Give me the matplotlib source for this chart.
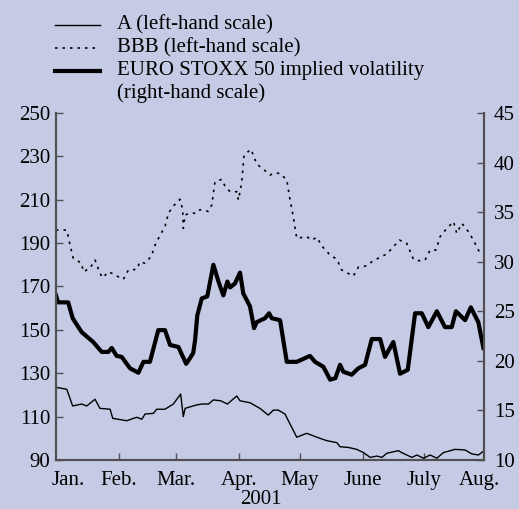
import matplotlib.pyplot as plt
from matplotlib.lines import Line2D

# *************************
# DATA (days since 1 Jan 2001)
# *************************
a_days = [0, 5.3, 8.2, 12.6, 15.1, 19.2, 21.6, 26.6, 27.9, 34.8, 39.7, 42.2, 43.8, 47.9,
          49.5, 53.6, 57.7, 61.3, 62.6, 63.5, 69.2, 71.7, 75, 77.4, 81, 84.3, 88.9, 90.5,
          95.4, 100.3, 104.4, 106.9, 109.3, 112.6, 118.4, 123.3, 128.3, 133.2, 138.1,
          139.7, 143.7, 147.9, 151.2, 154.5, 157.8, 160.3, 162.7, 168.4, 170, 175, 177.5,
          180.7, 184, 187.3, 190.5, 196.3, 201.2, 204.5, 207.7, 209.9]
a_vals = [123.5, 122.6, 114.9, 115.8, 114.9, 118, 113.8, 113.4, 109.2, 108.1, 109.7, 108.8,
          111.2, 111.5, 113.4, 113.4, 115.8, 120.4, 110, 113.8, 115.4, 115.8, 115.8, 117.7,
          117.3, 115.8, 119.5, 117.3, 116.4, 113.8, 110.7, 113, 113, 111.2, 100.5, 102.3,
          100.5, 98.9, 98, 96.1, 95.8, 94.9, 93.4, 91.2, 91.8, 91.2, 93.1, 94.3, 93.4, 91.2,
          92.3, 90.8, 92.3, 90.8, 93.4, 94.9, 94.6, 92.8, 92.3, 93.8]

bbb_days = [0, 5.3, 6.9, 8.5, 12.6, 13.4, 16.7, 19.2, 21.6, 23, 25.7, 28.2, 30.6, 33.1,
            35.6, 39.7, 41.3, 43.8, 47, 48.7, 51.2, 53.6, 55.3, 57.7, 61, 62.3, 62.6, 63.5,
            65.9, 69.2, 70.8, 74.9, 76.6, 78.2, 81.5, 83.1, 85.6, 88.9, 89.7, 91.3, 92.5,
            95.9, 98.7, 102.8, 105.3, 106.9, 110.2, 113.5, 115.1, 116.7, 118.4, 123.3,
            125.8, 128.3, 130.7, 134.8, 138.1, 140.5, 142.2, 146.2, 148.7, 152.8, 155.3,
            159.4, 162.7, 165.9, 168.9, 172.5, 175.8, 178.2, 181.5, 184, 186.9, 188.9,
            192.2, 195.5, 197.1, 199.6, 202.8, 205.3, 207.7, 209.4]
bbb_vals = [196, 196, 189.1, 183, 180.7, 176.8, 178.4, 182.2, 176.1, 174, 176.8, 175.8,
            174.5, 173.3, 177.6, 177.9, 181.4, 180.7, 184.1, 189.1, 193.7, 197.6, 203.8,
            207.1, 210.2, 205.3, 196.8, 203, 203.8, 203.8, 205.4, 204.6, 207.6, 218.3,
            219.4, 216.3, 213.7, 213.7, 209.9, 217.6, 230.6, 233.3, 226.5, 223.4, 221.4,
            222.2, 222.2, 219.1, 209.9, 202.2, 192.2, 193, 191.4, 192.7, 188.7, 184.5,
            182.6, 177.6, 176.8, 174.8, 178.9, 179.5, 181.4, 183.5, 185, 188.3, 191.4,
            189.9, 182.5, 181.9, 182.2, 186.8, 186.8, 193, 196.8, 199.9, 194.5, 199.1,
            195.3, 191.4, 186.8, 184.5]

vol_days = [0, 1, 6, 8.2, 12.6, 18.3, 22.5, 25.7, 27.4, 29.8, 32.3, 36.4, 40.5, 43, 46.2,
            50.3, 53.6, 56.1, 60.2, 64, 66, 67.5, 68.4, 69.5, 71.7, 74.4, 77.4, 79.9, 82.3,
            84.3, 85.6, 88, 90.5, 92.1, 95.4, 97.4, 98.7, 102.8, 104.8, 106.1, 110.2,
            113.5, 118.4, 124.9, 127.4, 131.5, 134.8, 137.4, 139.7, 141.3, 145.4, 148.7,
            152, 155.3, 159.4, 161.8, 165.9, 169.2, 173, 176.6, 179.9, 183.1, 187.3,
            191.3, 194.6, 196.7, 201.2, 204, 207.7, 210.2]
vol_vals = [26.6, 25.9, 25.9, 24.3, 22.9, 21.9, 20.9, 20.9, 21.3, 20.5, 20.4, 19.25, 18.8,
            19.9, 19.9, 23.1, 23.1, 21.6, 21.4, 19.7, 20.3, 20.8, 22.1, 24.6, 26.3, 26.5,
            29.7, 28.0, 26.6, 28.0, 27.4, 27.8, 28.9, 26.8, 25.5, 23.3, 23.9, 24.3, 24.8,
            24.3, 24.1, 19.9, 19.9, 20.5, 19.9, 19.4, 18.1, 18.25, 19.6, 18.9, 18.6, 19.25,
            19.6, 22.2, 22.2, 20.4, 21.9, 18.7, 19.1, 24.8, 24.8, 23.4, 25.0, 23.4, 23.4,
            25.0, 24.1, 25.4, 23.9, 21.3]

month_starts = [31, 59, 90, 120, 151, 181]
label_pos = [6, 31, 59, 90, 120, 151, 181, 208]
month_labels = ["Jan.", "Feb.", "Mar.", "Apr.", "May", "June", "July", "Aug."]
left_ticks = [90, 110, 130, 150, 170, 190, 210, 230, 250]
right_ticks = [10, 15, 20, 25, 30, 35, 40, 45]

# *************************
# PLOTTING
# *************************
plt.rcParams["font.family"] = "Liberation Serif"
plt.rcParams["font.size"] = 15
bg = "#c6cbe5"
spine_col = "#505050"

fig = plt.figure(figsize=(5.19, 5.09), dpi=100, facecolor=bg)
ax = fig.add_axes([0.1079, 0.0963, 0.8247, 0.6817], facecolor=bg)
ax2 = ax.twinx()

ax.plot(a_days, a_vals, color="black", lw=1.0)
ax.plot(bbb_days, bbb_vals, color="black", lw=1.2, linestyle=(0, (1.5, 3)))
ax2.plot(vol_days, vol_vals, color="black", lw=3.0)

ax.set_xlim(0, 210.5)
ax.set_ylim(90, 250)
ax2.set_ylim(10, 45)
ax.set_yticks(left_ticks)
ax2.set_yticks(right_ticks)

# labels on major ticks (no mark), month boundaries as minor tick marks
ax.xaxis.remove_overlapping_locs = False
ax.set_xticks(label_pos)
ax.set_xticklabels(month_labels)
ax.set_xticks(month_starts, minor=True)
ax.tick_params(axis="x", which="major", length=0, pad=8)
ax.tick_params(axis="x", which="minor", direction="in", length=5, width=1, color=spine_col)
ax.tick_params(axis="y", direction="in", length=5, width=1, color=spine_col, pad=4)
ax2.tick_params(axis="y", direction="in", length=5, width=1, color=spine_col, pad=7)

for a in (ax, ax2):
    a.spines["top"].set_visible(False)
    for s in ("left", "right", "bottom"):
        a.spines[s].set_color(spine_col)
        a.spines[s].set_linewidth(1.5)

fig.text(261 / 519, 1 - 504 / 509, "2001", ha="center", va="baseline")

# legend drawn by hand
rows = [25, 48, 71]
styles = [dict(lw=1.0), dict(lw=1.2, linestyle=(0, (1.5, 3))), dict(lw=3.0)]
labels = ["A (left-hand scale)", "BBB (left-hand scale)",
          "EURO STOXX 50 implied volatility"]
for y, st, lab in zip(rows, styles, labels):
    fy = 1 - y / 509
    fig.add_artist(Line2D([55 / 519, 100 / 519], [fy, fy], color="black",
                          transform=fig.transFigure, **st))
    fig.text(117 / 519, fy, lab, ha="left", va="center")
fig.text(117 / 519, 1 - 93 / 509, "(right-hand scale)", ha="left", va="center")

fig.savefig("out.png", dpi=100, facecolor=bg)
